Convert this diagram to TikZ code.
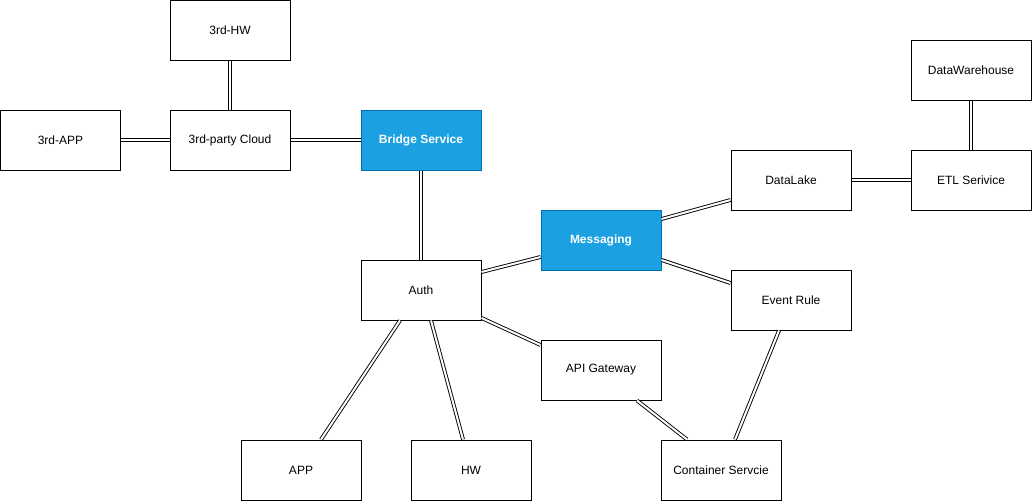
\documentclass[tikz,border=0pt]{standalone}
\usepackage{fontspec}
\setmainfont{Liberation Sans}
\usetikzlibrary{positioning}

\definecolor{svcblue}{HTML}{1BA1E2}
\definecolor{svcedge}{HTML}{006EAF}

\tikzset{
  box/.style={draw, line width=1pt, fill=white, minimum width=120pt, minimum height=60pt,
    inner sep=0pt, font=\fontsize{12}{14}\selectfont},
  bluebox/.style={box, draw=svcedge, fill=svcblue, text=white,
    font=\fontsize{12}{14}\selectfont\bfseries},
  link/.style={double, double distance=2pt, line width=0.9pt}
}

\begin{document}
\begin{tikzpicture}[x=1pt, y=-1pt]
    \useasboundingbox (0,0) rectangle (1032,501);

    % Third party side
    \node[box] (hw3) at (230,30.5) {3rd-HW};
    \node[box] (app3) at (60.5,140) {3rd-APP};
    \node[box] (cloud) at (230,140) {3rd-party Cloud};
    \node[bluebox] (bridge) at (421,140) {Bridge Service};

    % Core services
    \node[box] (auth) at (421,290) {Auth};
    \node[bluebox] (msg) at (601,240) {Messaging};
    \node[box] (api) at (601,370) {API Gateway};
    \node[box] (rule) at (791,300) {Event Rule};
    \node[box] (cont) at (721,470) {Container Servcie};
    \node[box] (app) at (301,470) {APP};
    \node[box] (hw) at (471,470) {HW};

    % Data pipeline
    \node[box] (lake) at (791,180) {DataLake};
    \node[box] (etl) at (971,180) {ETL Serivice};
    \node[box] (wh) at (971,70) {DataWarehouse};

    % Links
    \draw[link] (hw3.south) -- (cloud.north);
    \draw[link] (app3.east) -- (cloud.west);
    \draw[link] (cloud.east) -- (bridge.west);
    \draw[link] (bridge.south) -- (auth.north);
    \draw[link] ([yshift=18]auth.east) -- ([yshift=-17]msg.west);
    \draw[link] ([yshift=21]msg.east) -- ([yshift=-20]lake.west);
    \draw[link] ([yshift=-20]msg.east) -- ([yshift=17]rule.west);
    \draw[link] (lake.east) -- (etl.west);
    \draw[link] (wh.south) -- (etl.north);
    \draw[link] ([yshift=-28]auth.east) -- ([yshift=25]api.west);
    \draw[link] ([xshift=-21]auth.south) -- ([xshift=20]app.north);
    \draw[link] ([xshift=10]auth.south) -- ([xshift=-8]hw.north);
    \draw[link] ([xshift=36]api.south) -- ([xshift=-34]cont.north);
    \draw[link] ([xshift=-12]rule.south) -- ([xshift=14]cont.north);
\end{tikzpicture}
\end{document}
